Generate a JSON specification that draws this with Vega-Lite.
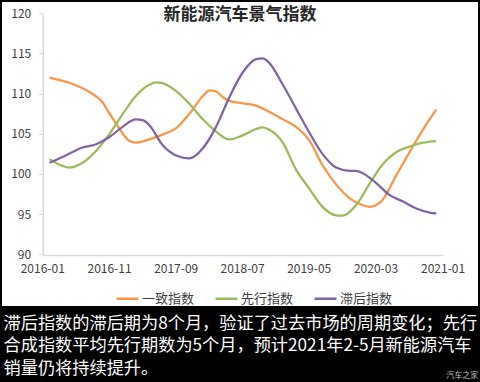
{
  "$schema": "https://vega.github.io/schema/vega-lite/v6.json",
  "width": 476,
  "height": 304,
  "autosize": {"type": "none"},
  "padding": {"left": 2, "top": 2, "right": 2, "bottom": 76},
  "background": "#000000",
  "config": {"view": {"fill": "#ffffff", "stroke": null}, "font": "Noto Sans CJK SC"},
  "title": {"text": "新能源汽车景气指数", "fontSize": 17, "fontWeight": "bold", "color": "#262626", "anchor": "middle", "frame": "group", "baseline": "middle", "offset": -30},
  "data": {"values": [
    {"date": "2016-02", "series": "一致指数", "value": 112.0},
    {"date": "2016-05", "series": "一致指数", "value": 111.35},
    {"date": "2016-08", "series": "一致指数", "value": 110.2},
    {"date": "2016-10", "series": "一致指数", "value": 108.9},
    {"date": "2016-11", "series": "一致指数", "value": 107.5},
    {"date": "2016-12", "series": "一致指数", "value": 106.3},
    {"date": "2017-01", "series": "一致指数", "value": 105.0},
    {"date": "2017-02", "series": "一致指数", "value": 104.1},
    {"date": "2017-03", "series": "一致指数", "value": 103.9},
    {"date": "2017-05", "series": "一致指数", "value": 104.3},
    {"date": "2017-07", "series": "一致指数", "value": 104.9},
    {"date": "2017-09", "series": "一致指数", "value": 105.7},
    {"date": "2017-11", "series": "一致指数", "value": 107.5},
    {"date": "2018-01", "series": "一致指数", "value": 109.7},
    {"date": "2018-02", "series": "一致指数", "value": 110.4},
    {"date": "2018-03", "series": "一致指数", "value": 110.3},
    {"date": "2018-04", "series": "一致指数", "value": 109.6},
    {"date": "2018-05", "series": "一致指数", "value": 109.1},
    {"date": "2018-07", "series": "一致指数", "value": 108.8},
    {"date": "2018-09", "series": "一致指数", "value": 108.5},
    {"date": "2018-11", "series": "一致指数", "value": 107.7},
    {"date": "2019-01", "series": "一致指数", "value": 106.8},
    {"date": "2019-03", "series": "一致指数", "value": 105.9},
    {"date": "2019-05", "series": "一致指数", "value": 104.2},
    {"date": "2019-07", "series": "一致指数", "value": 101.1},
    {"date": "2019-09", "series": "一致指数", "value": 98.7},
    {"date": "2019-11", "series": "一致指数", "value": 97.0},
    {"date": "2020-01", "series": "一致指数", "value": 96.1},
    {"date": "2020-02", "series": "一致指数", "value": 95.9},
    {"date": "2020-03", "series": "一致指数", "value": 96.1},
    {"date": "2020-04", "series": "一致指数", "value": 96.8},
    {"date": "2020-06", "series": "一致指数", "value": 99.8},
    {"date": "2020-08", "series": "一致指数", "value": 102.7},
    {"date": "2020-10", "series": "一致指数", "value": 105.5},
    {"date": "2020-12", "series": "一致指数", "value": 108.0},
    {"date": "2016-02", "series": "先行指数", "value": 101.85},
    {"date": "2016-04", "series": "先行指数", "value": 101.0},
    {"date": "2016-05", "series": "先行指数", "value": 100.8},
    {"date": "2016-07", "series": "先行指数", "value": 101.4},
    {"date": "2016-09", "series": "先行指数", "value": 102.9},
    {"date": "2016-11", "series": "先行指数", "value": 105.0},
    {"date": "2017-01", "series": "先行指数", "value": 107.5},
    {"date": "2017-03", "series": "先行指数", "value": 109.7},
    {"date": "2017-05", "series": "先行指数", "value": 111.1},
    {"date": "2017-06", "series": "先行指数", "value": 111.4},
    {"date": "2017-07", "series": "先行指数", "value": 111.3},
    {"date": "2017-09", "series": "先行指数", "value": 110.3},
    {"date": "2017-11", "series": "先行指数", "value": 108.7},
    {"date": "2018-01", "series": "先行指数", "value": 106.8},
    {"date": "2018-03", "series": "先行指数", "value": 105.3},
    {"date": "2018-05", "series": "先行指数", "value": 104.3},
    {"date": "2018-07", "series": "先行指数", "value": 104.8},
    {"date": "2018-09", "series": "先行指数", "value": 105.6},
    {"date": "2018-10", "series": "先行指数", "value": 105.8},
    {"date": "2018-11", "series": "先行指数", "value": 105.5},
    {"date": "2019-01", "series": "先行指数", "value": 103.9},
    {"date": "2019-03", "series": "先行指数", "value": 100.6},
    {"date": "2019-05", "series": "先行指数", "value": 98.2},
    {"date": "2019-07", "series": "先行指数", "value": 95.9},
    {"date": "2019-09", "series": "先行指数", "value": 94.85},
    {"date": "2019-10", "series": "先行指数", "value": 94.8},
    {"date": "2019-12", "series": "先行指数", "value": 96.1},
    {"date": "2020-02", "series": "先行指数", "value": 98.8},
    {"date": "2020-04", "series": "先行指数", "value": 101.2},
    {"date": "2020-06", "series": "先行指数", "value": 102.7},
    {"date": "2020-08", "series": "先行指数", "value": 103.4},
    {"date": "2020-10", "series": "先行指数", "value": 103.9},
    {"date": "2020-12", "series": "先行指数", "value": 104.1},
    {"date": "2016-02", "series": "滞后指数", "value": 101.4},
    {"date": "2016-04", "series": "滞后指数", "value": 102.1},
    {"date": "2016-07", "series": "滞后指数", "value": 103.3},
    {"date": "2016-09", "series": "滞后指数", "value": 103.7},
    {"date": "2016-11", "series": "滞后指数", "value": 104.6},
    {"date": "2017-01", "series": "滞后指数", "value": 105.9},
    {"date": "2017-03", "series": "滞后指数", "value": 106.8},
    {"date": "2017-04", "series": "滞后指数", "value": 106.7},
    {"date": "2017-05", "series": "滞后指数", "value": 106.1},
    {"date": "2017-07", "series": "滞后指数", "value": 103.6},
    {"date": "2017-09", "series": "滞后指数", "value": 102.3},
    {"date": "2017-11", "series": "滞后指数", "value": 101.95},
    {"date": "2018-01", "series": "滞后指数", "value": 103.2},
    {"date": "2018-03", "series": "滞后指数", "value": 105.8},
    {"date": "2018-05", "series": "滞后指数", "value": 109.5},
    {"date": "2018-07", "series": "滞后指数", "value": 112.6},
    {"date": "2018-09", "series": "滞后指数", "value": 114.3},
    {"date": "2018-10", "series": "滞后指数", "value": 114.4},
    {"date": "2018-11", "series": "滞后指数", "value": 113.8},
    {"date": "2019-01", "series": "滞后指数", "value": 111.1},
    {"date": "2019-03", "series": "滞后指数", "value": 108.2},
    {"date": "2019-05", "series": "滞后指数", "value": 105.2},
    {"date": "2019-07", "series": "滞后指数", "value": 102.5},
    {"date": "2019-09", "series": "滞后指数", "value": 100.8},
    {"date": "2019-11", "series": "滞后指数", "value": 100.4},
    {"date": "2019-12", "series": "滞后指数", "value": 100.4},
    {"date": "2020-01", "series": "滞后指数", "value": 100.1},
    {"date": "2020-03", "series": "滞后指数", "value": 98.9},
    {"date": "2020-05", "series": "滞后指数", "value": 97.4},
    {"date": "2020-07", "series": "滞后指数", "value": 96.6},
    {"date": "2020-09", "series": "滞后指数", "value": 95.7},
    {"date": "2020-11", "series": "滞后指数", "value": 95.2},
    {"date": "2020-12", "series": "滞后指数", "value": 95.1}
  ]},
  "mark": {"type": "line", "interpolate": "monotone", "strokeWidth": 2.25},
  "encoding": {
    "x": {
      "field": "date", "type": "temporal",
      "scale": {"type": "utc", "domain": [{"year": 2016, "month": 1, "date": 1, "utc": true}, {"year": 2021, "month": 1, "date": 1, "utc": true}], "range": [40.7, 441]},
      "axis": {
        "values": [
          {"year": 2016, "month": 1, "date": 1, "utc": true},
          {"year": 2016, "month": 11, "date": 1, "utc": true},
          {"year": 2017, "month": 9, "date": 1, "utc": true},
          {"year": 2018, "month": 7, "date": 1, "utc": true},
          {"year": 2019, "month": 5, "date": 1, "utc": true},
          {"year": 2020, "month": 3, "date": 1, "utc": true},
          {"year": 2021, "month": 1, "date": 1, "utc": true}
        ],
        "format": "%Y-%m", "offset": -51, "domainColor": "#d9d9d9", "domainWidth": 1.5, "ticks": false, "grid": false,
        "labelFontSize": 12, "labelColor": "#404040", "labelPadding": 8, "labelFlush": false, "labelAlign": "left", "labelOffset": -22.5, "labelOverlap": false,
        "title": ["滞后指数的滞后期为8个月，验证了过去市场的周期变化；先行", "合成指数平均先行期数为5个月，预计2021年2-5月新能源汽车", "销量仍将持续提升。"],
        "titleX": 1, "titleY": 59, "titleAnchor": "start", "titleAlign": "left", "titleBaseline": "top", "titleAngle": 0,
        "titleColor": "#ffffff", "titleFontSize": 17.2, "titleFontWeight": "normal", "titleLineHeight": 22.5, "titleLimit": 1000
      }
    },
    "y": {
      "field": "value", "type": "quantitative",
      "scale": {"domain": [90, 120], "range": [252.3, 11.3], "nice": false, "zero": false},
      "axis": {
        "values": [90, 95, 100, 105, 110, 115, 120], "offset": -40.7, "domainColor": "#d9d9d9", "domainWidth": 1.5,
        "tickColor": "#d9d9d9", "tickSize": 4, "grid": false, "labelFontSize": 12, "labelPadding": 8, "labelColor": "#404040",
        "title": "汽车之家", "titleX": 419, "titleY": 373, "titleAngle": 0, "titleAlign": "center", "titleBaseline": "middle",
        "titleFontSize": 8, "titleColor": "#bfbfbf", "titleFontWeight": "normal"
      }
    },
    "color": {
      "field": "series", "type": "nominal",
      "scale": {"domain": ["一致指数", "先行指数", "滞后指数"], "range": ["#F79646", "#9BBB59", "#8064A2"]},
      "legend": {"orient": "none", "legendX": 113, "legendY": 284, "direction": "horizontal", "title": null,
        "symbolType": "stroke", "symbolSize": 484, "symbolStrokeWidth": 2.5, "labelFontSize": 13, "labelColor": "#404040",
        "columnPadding": 15, "labelOffset": 2}
    }
  }
}
